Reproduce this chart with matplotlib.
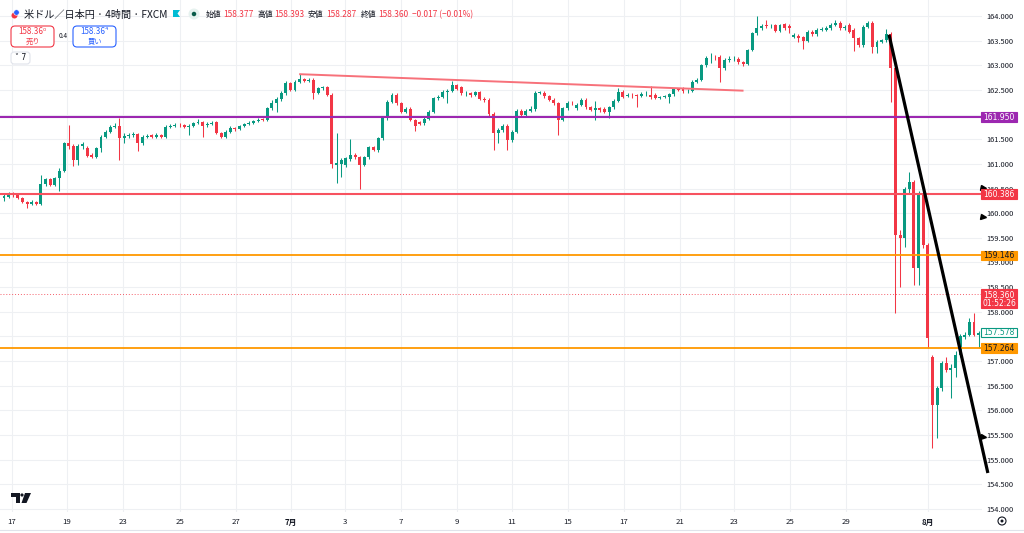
import matplotlib
matplotlib.use('Agg')
import matplotlib.pyplot as plt
from matplotlib.patches import Rectangle, Ellipse, Polygon, FancyBboxPatch
from matplotlib.lines import Line2D

plt.rcParams['font.family'] = ['Noto Sans CJK JP', 'DejaVu Sans']

# ---------------- data (4H candles, USD/JPY) ----------------
opens = [
    160.30, 160.33, 160.39, 160.36, 160.31, 160.23, 160.19, 160.22, 160.19, 160.60,
    160.69, 160.58, 160.71, 160.86, 161.42, 161.36, 161.08, 161.36, 161.33, 161.18,
    161.14, 161.32, 161.55, 161.65, 161.75, 161.77, 161.53, 161.57, 161.58, 161.60,
    161.43, 161.55, 161.58, 161.55, 161.59, 161.55, 161.75, 161.77, 161.79, 161.78,
    161.74, 161.77, 161.82, 161.84, 161.78, 161.80, 161.84, 161.62, 161.55, 161.65,
    161.73, 161.70, 161.76, 161.80, 161.83, 161.87, 161.91, 161.89, 162.13, 162.23,
    162.31, 162.43, 162.64, 162.50, 162.67, 162.72, 162.69, 162.71, 162.44, 162.53,
    162.55, 162.40, 160.98, 161.00, 160.97, 161.09, 161.18, 161.14, 160.98, 161.14,
    161.34, 161.29, 161.52, 161.93, 162.26, 162.40, 162.23, 162.06, 162.12, 161.89,
    161.84, 161.82, 161.92, 162.06, 162.33, 162.36, 162.46, 162.48, 162.60, 162.56,
    162.43, 162.44, 162.40, 162.45, 162.32, 162.30, 162.02, 161.62, 161.68, 161.77,
    161.48, 161.65, 162.08, 161.99, 162.08, 162.11, 162.44, 162.44, 162.37, 162.30,
    162.23, 161.89, 162.13, 162.24, 162.14, 162.20, 162.30, 162.16, 162.10, 162.13,
    162.12, 162.06, 162.15, 162.28, 162.46, 162.38, 162.40, 162.39, 162.38, 162.41,
    162.40, 162.40, 162.34, 162.35, 162.35, 162.41, 162.51, 162.52, 162.47, 162.48,
    162.67, 162.71, 163.00, 163.14, 163.15, 163.17, 162.94, 163.11, 163.12, 163.13,
    163.06, 163.03, 163.31, 163.65, 163.75, 163.82, 163.79, 163.81, 163.70, 163.83,
    163.80, 163.58, 163.60, 163.57, 163.50, 163.68, 163.63, 163.72, 163.72, 163.75,
    163.82, 163.86, 163.75, 163.82, 163.72, 163.55, 163.41, 163.78, 163.86, 163.38,
    163.48, 163.51, 163.64, 162.94, 159.56, 159.49, 160.50, 160.64, 158.88, 160.37,
    159.36, 157.09, 156.11, 156.45, 156.96, 156.81, 156.87, 157.12, 157.49, 157.53,
    157.80, 157.53,
]
highs = [
    160.40, 160.43, 160.42, 160.38, 160.33, 160.25, 160.26, 160.25, 160.77, 160.72,
    160.72, 160.74, 160.92, 161.45, 161.79, 161.40, 161.40, 161.45, 161.36, 161.22,
    161.35, 161.58, 161.68, 161.78, 161.82, 161.93, 161.62, 161.62, 161.64, 161.63,
    161.58, 161.60, 161.60, 161.62, 161.61, 161.78, 161.80, 161.82, 161.82, 161.80,
    161.80, 161.85, 161.92, 161.88, 161.84, 161.86, 161.88, 161.64, 161.68, 161.76,
    161.75, 161.79, 161.83, 161.86, 161.90, 161.93, 161.94, 162.16, 162.30, 162.35,
    162.47, 162.68, 162.67, 162.70, 162.82, 162.75, 162.74, 162.74, 162.56, 162.58,
    162.58, 162.43, 161.63, 161.12, 161.15, 161.50, 161.22, 161.17, 161.17, 161.37,
    161.36, 161.55, 161.96, 162.30, 162.43, 162.43, 162.26, 162.15, 162.15, 161.92,
    161.87, 161.95, 162.09, 162.36, 162.40, 162.49, 162.52, 162.69, 162.63, 162.58,
    162.48, 162.46, 162.48, 162.48, 162.35, 162.33, 162.05, 161.72, 161.80, 161.80,
    161.68, 162.11, 162.11, 162.11, 162.18, 162.47, 162.48, 162.47, 162.40, 162.33,
    162.26, 162.16, 162.27, 162.27, 162.23, 162.33, 162.33, 162.18, 162.27, 162.16,
    162.15, 162.18, 162.31, 162.53, 162.49, 162.44, 162.43, 162.42, 162.45, 162.48,
    162.57, 162.43, 162.38, 162.40, 162.44, 162.54, 162.54, 162.55, 162.51, 162.70,
    162.74, 163.03, 163.18, 163.24, 163.20, 163.20, 163.14, 163.18, 163.18, 163.16,
    163.08, 163.34, 163.68, 163.99, 163.84, 163.92, 163.84, 163.84, 163.84, 163.86,
    163.83, 163.65, 163.63, 163.60, 163.71, 163.71, 163.75, 163.77, 163.79, 163.85,
    163.91, 163.89, 163.82, 163.85, 163.75, 163.58, 163.81, 163.89, 163.89, 163.51,
    163.54, 163.73, 163.67, 162.97, 159.66, 160.53, 160.84, 160.67, 160.45, 160.40,
    159.40, 157.12, 156.50, 157.00, 157.09, 156.95, 157.20, 157.55, 157.60, 157.87,
    157.98, 157.62,
]
lows = [
    160.25, 160.30, 160.33, 160.28, 160.20, 160.11, 160.16, 160.16, 160.17, 160.55,
    160.55, 160.55, 160.45, 160.83, 161.30, 160.95, 160.98, 161.30, 161.14, 161.12,
    161.12, 161.25, 161.52, 161.62, 161.72, 161.08, 161.42, 161.52, 161.55, 161.27,
    161.38, 161.52, 161.52, 161.53, 161.52, 161.53, 161.72, 161.74, 161.75, 161.72,
    161.58, 161.75, 161.80, 161.55, 161.75, 161.78, 161.60, 161.52, 161.52, 161.62,
    161.67, 161.68, 161.74, 161.78, 161.81, 161.85, 161.86, 161.86, 162.10, 162.05,
    162.28, 162.40, 162.47, 162.47, 162.64, 162.66, 162.66, 162.32, 162.42, 162.50,
    162.37, 160.91, 160.62, 160.74, 160.94, 161.06, 161.10, 160.49, 160.95, 161.10,
    161.26, 161.25, 161.49, 161.90, 162.23, 162.20, 162.03, 162.03, 161.86, 161.66,
    161.78, 161.79, 161.89, 162.03, 162.30, 162.33, 162.24, 162.45, 162.49, 162.40,
    162.38, 162.35, 162.37, 162.30, 162.26, 161.98, 161.28, 161.42, 161.65, 161.28,
    161.45, 161.62, 161.96, 161.96, 162.05, 162.08, 162.41, 162.34, 162.27, 162.20,
    161.59, 161.86, 162.10, 162.20, 162.10, 162.17, 162.12, 162.07, 161.89, 162.05,
    162.03, 161.93, 162.12, 162.25, 162.33, 162.35, 162.34, 162.15, 162.35, 162.38,
    162.32, 162.31, 162.31, 162.33, 162.23, 162.38, 162.47, 162.44, 162.44, 162.45,
    162.64, 162.68, 162.97, 163.05, 163.10, 162.67, 162.91, 163.06, 163.08, 163.03,
    162.98, 163.00, 163.28, 163.62, 163.72, 163.76, 163.76, 163.67, 163.67, 163.72,
    163.65, 163.55, 163.48, 163.33, 163.47, 163.60, 163.60, 163.69, 163.69, 163.72,
    163.79, 163.72, 163.72, 163.65, 163.28, 163.38, 163.38, 163.75, 163.24, 163.25,
    163.45, 163.48, 162.26, 157.98, 158.51, 159.32, 160.40, 158.54, 158.54, 159.30,
    157.26, 155.23, 155.43, 156.40, 156.78, 156.25, 156.68, 157.08, 157.45, 157.50,
    157.50, 157.26,
]
closes = [
    160.34, 160.39, 160.36, 160.31, 160.23, 160.19, 160.22, 160.19, 160.60, 160.69,
    160.58, 160.71, 160.86, 161.42, 161.36, 161.08, 161.36, 161.40, 161.16, 161.14,
    161.32, 161.55, 161.65, 161.75, 161.77, 161.53, 161.57, 161.58, 161.60, 161.43,
    161.55, 161.56, 161.55, 161.59, 161.55, 161.75, 161.77, 161.79, 161.78, 161.74,
    161.77, 161.82, 161.84, 161.76, 161.80, 161.82, 161.62, 161.55, 161.65, 161.73,
    161.70, 161.76, 161.80, 161.83, 161.87, 161.90, 161.89, 162.13, 162.23, 162.31,
    162.43, 162.64, 162.50, 162.67, 162.72, 162.69, 162.71, 162.44, 162.53, 162.55,
    162.40, 161.00, 161.02, 161.08, 161.12, 161.18, 161.14, 160.98, 161.14, 161.34,
    161.29, 161.52, 161.93, 162.26, 162.40, 162.23, 162.06, 162.12, 161.89, 161.76,
    161.81, 161.92, 162.06, 162.33, 162.36, 162.46, 162.48, 162.60, 162.52, 162.43,
    162.44, 162.40, 162.45, 162.32, 162.29, 162.02, 161.62, 161.68, 161.77, 161.48,
    161.65, 162.08, 161.99, 162.08, 162.11, 162.44, 162.45, 162.37, 162.30, 162.23,
    161.89, 162.13, 162.24, 162.23, 162.20, 162.30, 162.15, 162.10, 162.13, 162.10,
    162.06, 162.15, 162.28, 162.46, 162.36, 162.40, 162.39, 162.37, 162.41, 162.42,
    162.35, 162.34, 162.35, 162.37, 162.41, 162.51, 162.50, 162.47, 162.48, 162.67,
    162.71, 163.00, 163.14, 163.15, 163.14, 162.94, 163.11, 163.12, 163.13, 163.06,
    163.03, 163.31, 163.65, 163.75, 163.80, 163.79, 163.80, 163.70, 163.81, 163.75,
    163.75, 163.62, 163.55, 163.50, 163.68, 163.63, 163.72, 163.73, 163.75, 163.82,
    163.86, 163.75, 163.78, 163.68, 163.55, 163.41, 163.78, 163.86, 163.38, 163.48,
    163.51, 163.64, 162.94, 159.56, 159.49, 160.50, 160.64, 158.88, 160.37, 159.36,
    157.46, 156.11, 156.45, 156.96, 156.82, 156.87, 157.12, 157.50, 157.53, 157.80,
    157.53, 157.58,
]

# time axis (candle index of each day label)
date_ticks = [1.7, 13.6, 25.8, 38.1, 50.2, 62.1, 73.8, 85.9, 98.1, 110.0,
              122.1, 134.2, 146.4, 158.0, 170.2, 182.3, 200.0]
date_labels = ['17', '19', '23', '25', '27', '7月', '3', '7', '9', '11',
               '15', '17', '21', '23', '25', '29', '8月']
price_ticks = [154.0, 154.5, 155.0, 155.5, 156.0, 156.5, 157.0, 157.5, 158.0, 158.5,
               159.0, 159.5, 160.0, 160.5, 161.0, 161.5, 162.0, 162.5, 163.0, 163.5, 164.0]
# price labels hidden behind the coloured level boxes in the reference
hidden_price_labels = [162.0, 157.5]

# horizontal levels
level_prices = [161.950, 160.386, 159.146, 157.264]
current_price = 158.360
last_close = 157.578
countdown = '01:52:26'

# trend lines (candle index, price)
red_trend_x = [63.9, 160.1]
red_trend_y = [162.82, 162.485]
black_trend_x = [191.6, 213.0]
black_trend_y = [163.62, 154.73]
alert_prices = [160.52, 159.93, 155.47]

header_title = '米ドル／日本円 · 4時間 · FXCM'
ohlc_names = ['始値', '高値', '安値', '終値']
ohlc_values = ['158.377', '158.393', '158.287', '158.360']
change_text = '−0.017 (−0.01%)'

# ---------------- styling ----------------
W, H = 1024, 533
UP = '#089981'
DOWN = '#f23645'
TXT = '#131722'
GRID = '#eef0f3'

fig = plt.figure(figsize=(W / 100, H / 100), dpi=100)
fig.patch.set_facecolor('white')
ax = fig.add_axes([0, 21 / H, 982 / W, 512 / H])
ax.set_facecolor('white')


def fx(x):
    return x / W


def fy(y):
    return 1 - y / H


# ---------------- candles ----------------
idx = list(range(len(closes)))
cols = [UP if c >= o else DOWN for o, c in zip(opens, closes)]
ax.vlines(idx, lows, highs, colors=cols, lw=0.75, zorder=3)
bottoms = [min(o, c) for o, c in zip(opens, closes)]
heights = [max(abs(c - o), 0.012) for o, c in zip(opens, closes)]
ax.bar(idx, heights, bottom=bottoms, width=0.64, color=cols, linewidth=0, zorder=4)

# ---------------- levels / drawings ----------------
level_colors = ['#9c27b0', '#f7525f', '#ff9800', '#ff9800']
level_lw = [1.5, 1.5, 1.3, 1.3]
for p, c, lw in zip(level_prices, level_colors, level_lw):
    ax.axhline(p, color=c, lw=lw, zorder=5)
ax.axhline(current_price, color=DOWN, lw=0.7, ls=(0, (1, 2)), alpha=0.8, zorder=2)

ax.plot(red_trend_x, red_trend_y, color='#f7717a', lw=1.4, zorder=6,
        solid_capstyle='butt')
ax.plot(black_trend_x, black_trend_y, color='black', lw=2.3, zorder=7,
        clip_on=False, solid_capstyle='butt')
ax.plot([212.0] * len(alert_prices), alert_prices, ls='none', marker='>',
        ms=3.6, color='black', clip_on=False, zorder=8)

# ---------------- axes ----------------
ax.set_xlim(-0.866, 211.73)
ax.set_ylim(153.939, 164.3245)
ax.yaxis.tick_right()
ax.set_yticks(price_ticks)
ax.set_yticklabels(['' if p in hidden_price_labels else f'{p:.3f}' for p in price_ticks])
ax.tick_params(axis='y', length=0, pad=3, labelsize=5.4, labelcolor=TXT)
ax.set_xticks(date_ticks)
ax.set_xticklabels(date_labels)
ax.tick_params(axis='x', length=0, pad=4.5, labelsize=5.6, labelcolor=TXT)
for lbl in ax.get_xticklabels():
    if '月' in lbl.get_text():
        lbl.set_fontweight('bold')
ax.grid(True, color=GRID, lw=0.8)
ax.set_axisbelow(True)
for s in ax.spines.values():
    s.set_visible(False)


def price_to_py(p):
    return 16 + (164 - p) * 49.3


# cover clipped part of lowest price label
fig.add_artist(Rectangle((fx(982), fy(533)), fx(1024) - fx(982), (533 - 512) / H,
                         transform=fig.transFigure, fc='white', ec='none', zorder=1))
fig.add_artist(Line2D([0, 1], [fy(530), fy(530)], transform=fig.transFigure,
                      color='#e0e3eb', lw=0.8, zorder=1))


def price_box(p, text, fc, tc, ec=None, h=9.5, extra=None):
    y = price_to_py(p)
    top = y - h / 2
    bh = h if extra is None else h + 9
    ty = y if extra is None else y + 1.0
    fig.add_artist(Rectangle((fx(981), fy(top + bh)), 36 / W, bh / H,
                             transform=fig.transFigure, fc=fc,
                             ec=ec if ec else fc, lw=0.8, zorder=2))
    fig.text(fx(999), fy(ty), text, color=tc, fontsize=5.5, ha='center',
             va='center', zorder=3, family=['DejaVu Sans'])
    if extra is not None:
        fig.text(fx(999), fy(y + 9.0), extra, color=tc, fontsize=5.5,
                 ha='center', va='center', zorder=3, family=['DejaVu Sans'])


price_box(level_prices[0], f'{level_prices[0]:.3f}', '#9c27b0', 'white')
price_box(level_prices[1], f'{level_prices[1]:.3f}', '#f23645', 'white')
price_box(level_prices[2], f'{level_prices[2]:.3f}', '#ff9800', TXT)
price_box(current_price, f'{current_price:.3f}', '#f23645', 'white', extra=countdown)
price_box(last_close, f'{last_close:.3f}', 'white', UP, ec=UP)
price_box(level_prices[3], f'{level_prices[3]:.3f}', '#ff9800', TXT)

# gear icon
fig.add_artist(Ellipse((fx(1002), fy(521)), 8 / W, 8 / H, transform=fig.transFigure,
                       fc='none', ec=TXT, lw=0.8, zorder=3))
fig.add_artist(Ellipse((fx(1002), fy(521)), 3 / W, 3 / H, transform=fig.transFigure,
                       fc=TXT, ec='none', zorder=3))

# TradingView logo
fig.add_artist(Polygon([(fx(11), fy(493)), (fx(19.5), fy(493)), (fx(19.5), fy(503)),
                        (fx(15.5), fy(503)), (fx(15.5), fy(497)), (fx(11), fy(497))],
                       closed=True, transform=fig.transFigure, fc=TXT, ec='none', zorder=3))
fig.add_artist(Ellipse((fx(22), fy(495)), 3.2 / W, 3.2 / H, transform=fig.transFigure,
                       fc=TXT, ec='none', zorder=3))
fig.add_artist(Polygon([(fx(25), fy(493)), (fx(31), fy(493)), (fx(26.5), fy(503)),
                        (fx(21.5), fy(503))],
                       closed=True, transform=fig.transFigure, fc=TXT, ec='none', zorder=3))

# ---------------- header ----------------
fig.add_artist(Ellipse((fx(14.5), fy(15.5)), 6 / W, 6 / H, transform=fig.transFigure,
                       fc='#f23645', ec='none', zorder=3))
fig.add_artist(Ellipse((fx(16.5), fy(12.5)), 5.5 / W, 5.5 / H, transform=fig.transFigure,
                       fc='#2962ff', ec='white', lw=0.4, zorder=3))
fig.text(fx(24), fy(14.5), header_title, fontsize=7.3, color=TXT, va='center',
         ha='left')
fig.add_artist(Polygon([(fx(173), fy(10)), (fx(180), fy(10)), (fx(177.5), fy(13.5)),
                        (fx(180), fy(17)), (fx(173), fy(17))], closed=True,
                       transform=fig.transFigure, fc='#00bcd4', ec='none', zorder=3))
fig.add_artist(Ellipse((fx(194), fy(14)), 11 / W, 11 / H, transform=fig.transFigure,
                       fc='#e6f2ef', ec='none', zorder=3))
fig.add_artist(Ellipse((fx(194), fy(14)), 4.5 / W, 4.5 / H, transform=fig.transFigure,
                       fc='#0a5c4a', ec='none', zorder=4))
name_x = [206, 257, 308, 361]
val_x = [223, 274, 326, 378]
for nm, v, nx, vx in zip(ohlc_names, ohlc_values, name_x, val_x):
    fig.text(fx(nx), fy(14.5), nm, fontsize=5.6, color=TXT, va='center')
    fig.text(fx(vx), fy(14.5), v, fontsize=6.0, color=DOWN, va='center')
fig.text(fx(412), fy(14.5), change_text, fontsize=6.0, color=DOWN, va='center')

# sell / buy boxes
for x0, col, price_txt, lbl in [(11, '#f23645', '158.36⁰', '売り'),
                                (73, '#2962ff', '158.36⁴', '買い')]:
    fig.add_artist(FancyBboxPatch((fx(x0), fy(47)), 43 / W, 21 / H,
                                  boxstyle='round,pad=0,rounding_size=0.004',
                                  mutation_aspect=W / H,
                                  transform=fig.transFigure, fc='white', ec=col,
                                  lw=0.8, zorder=3))
    fig.text(fx(x0 + 21.5), fy(32), price_txt, fontsize=5.8, color=col,
             ha='center', va='center', zorder=4)
    fig.text(fx(x0 + 21.5), fy(41.5), lbl, fontsize=5.2, color=col,
             ha='center', va='center', zorder=4)
fig.text(fx(63.5), fy(36), '0.4', fontsize=4.6, color=TXT, ha='center', va='center')
fig.add_artist(FancyBboxPatch((fx(11), fy(64)), 19 / W, 12 / H,
                              boxstyle='round,pad=0,rounding_size=0.003',
                              mutation_aspect=W / H,
                              transform=fig.transFigure, fc='white', ec='#e0e3eb',
                              lw=0.8, zorder=3))
fig.text(fx(20.5), fy(58), '˅ 7', fontsize=5.6, color=TXT, ha='center', va='center',
         zorder=4, family=['DejaVu Sans'])

fig.savefig('out.png', dpi=100, facecolor='white')
